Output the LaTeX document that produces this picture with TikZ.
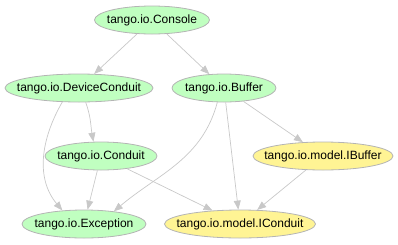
\documentclass[tikz,border=0pt]{standalone}
\usepackage{fontspec}
\setmainfont{Liberation Sans}
\usetikzlibrary{shapes.geometric,arrows.meta}
\definecolor{clsgreen}{HTML}{C0FFC0}
\definecolor{ifyellow}{HTML}{FFF494}
\definecolor{rim}{HTML}{B4B4B4}
\definecolor{edgegray}{HTML}{C8C8C8}
% label of zero width, so the ellipse takes its size from minimum width
\newcommand{\cname}[1]{\makebox[0pt]{#1}}

\begin{document}
\begin{tikzpicture}[x=1pt,y=-1pt,
    cls/.style={ellipse,draw=rim,fill=clsgreen,line width=.8pt,inner sep=0pt,minimum height=28pt,font=\fontsize{12}{14}\selectfont},
    iface/.style={cls,fill=ifyellow},
    dep/.style={draw=edgegray,line width=.7pt,-{Triangle[length=9pt,width=7pt]}}]
\useasboundingbox (0,0) rectangle (398,244);
\node[cls,minimum width=115pt] (console) at (152,20) {\cname{tango.io.Console}};
\node[cls,minimum width=148pt] (devcond) at (79,88) {\cname{tango.io.DeviceConduit}};
\node[cls,minimum width=104pt] (buffer) at (224,88) {\cname{tango.io.Buffer}};
\node[cls,minimum width=112pt] (conduit) at (101,156) {\cname{tango.io.Conduit}};
\node[iface,minimum width=140pt] (ibuffer) at (323,156) {\cname{tango.io.model.IBuffer}};
\node[cls,minimum width=124pt] (except) at (84,224) {\cname{tango.io.Exception}};
\node[iface,minimum width=151pt] (iconduit) at (240,224) {\cname{tango.io.model.IConduit}};
% dependency edges
\draw[dep] (console) -- (devcond);
\draw[dep] (console) -- (buffer);
\draw[dep] (devcond.-65) to[out=-70,in=100] (conduit.118);
\draw[dep] (devcond.-140) to[out=-120,in=130] (except.148);
\draw[dep] (buffer.-115) to[out=-105,in=40] (except.23);
\draw[dep] (buffer) -- (iconduit);
\draw[dep] (buffer) -- (ibuffer);
\draw[dep] (conduit) -- (except);
\draw[dep] (conduit) -- (iconduit);
\draw[dep] (ibuffer) -- (iconduit);
\end{tikzpicture}
\end{document}
